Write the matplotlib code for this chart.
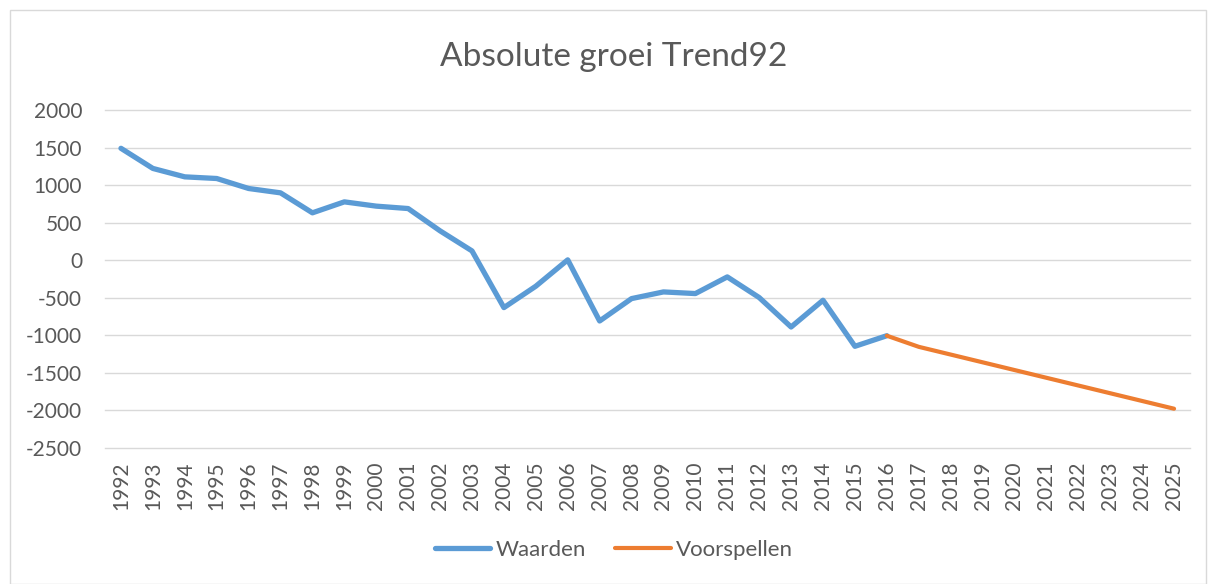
import matplotlib
matplotlib.use("Agg")
import matplotlib.pyplot as plt
from matplotlib.patches import Rectangle

years = list(range(1992, 2026))
waarden_years = list(range(1992, 2017))
waarden = [1490, 1222, 1110, 1088, 955, 897, 631, 777, 720, 688,
           391, 124, -631, -346, 5, -809, -511, -422, -444, -222,
           -497, -889, -533, -1146, -1005]
voorspel_years = list(range(2016, 2026))
voorspellen = [-1005, -1153, -1256, -1359, -1462, -1565, -1668, -1771, -1874, -1977]
yticks = [2000, 1500, 1000, 500, 0, -500, -1000, -1500, -2000, -2500]

title = "Absolute groei Trend92"
txt = "#595959"
plt.rcParams['font.family'] = ['Lato', 'DejaVu Sans']

fig = plt.figure(figsize=(12.08, 5.84), dpi=100)
fig.patches.append(Rectangle((10/1208, 0), 1196/1208, (584-10)/584, transform=fig.transFigure,
                             fill=False, edgecolor="#d9d9d9", linewidth=1))
ax = fig.add_axes([105/1208, 1-448/584, (1190-105)/1208, (448-110)/584])

idx = {y: i for i, y in enumerate(years)}
ax.plot([idx[y] for y in waarden_years], waarden, color="#5B9BD5", lw=3.8,
        solid_capstyle="round", solid_joinstyle="round", label="Waarden", zorder=3)
ax.plot([idx[y] for y in voorspel_years], voorspellen, color="#ED7D31", lw=3.0,
        solid_capstyle="round", solid_joinstyle="round", label="Voorspellen", zorder=3)

ax.set_xlim(-0.5, len(years) - 0.5)
ax.set_ylim(-2500, 2000)
ax.set_yticks(yticks)
ax.set_yticklabels([str(v) for v in yticks])
ax.set_xticks(range(len(years)))
ax.set_xticklabels([str(y) for y in years], rotation=90)
ax.tick_params(axis="both", length=0, colors=txt, labelsize=15)
ax.yaxis.set_tick_params(pad=16.5)
ax.xaxis.set_tick_params(pad=10)
ax.grid(axis="y", color="#d9d9d9", lw=1)
for gl in ax.get_ygridlines():
    gl.set_clip_on(False)
ax.set_axisbelow(True)
for s in ax.spines.values():
    s.set_visible(False)

fig.text(614/1208, 1-57/584, title, ha="center", va="center", fontsize=24, color=txt)
leg = fig.legend(loc="center", bbox_to_anchor=(614/1208, 1-550/584), ncol=2, frameon=False,
                 fontsize=16, handlelength=2.5, columnspacing=1.3, handletextpad=0.25)
for t in leg.get_texts():
    t.set_color(txt)

fig.savefig("out.png", dpi=100)
